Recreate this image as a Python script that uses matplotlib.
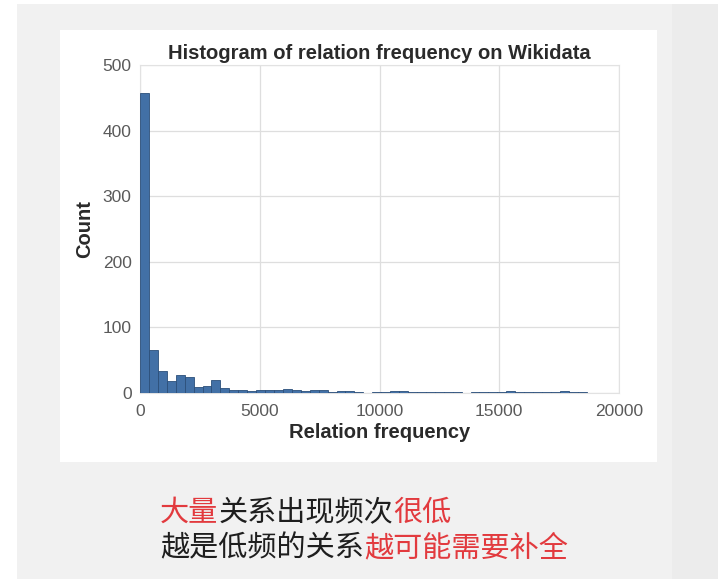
import matplotlib
matplotlib.use("Agg")
import matplotlib.pyplot as plt
from matplotlib.patches import Rectangle
import numpy as np

# relation frequency histogram (50 bins up to the largest frequency)
max_freq = 18650
counts = [457, 66, 33, 18, 28, 24, 9, 10, 20, 7,
          4, 4, 3, 4, 4, 5, 6, 4, 3, 5,
          5, 2, 3, 3, 2, 0, 1, 2, 3, 3,
          2, 2, 2, 2, 2, 1, 0, 1, 2, 2,
          2, 3, 1, 2, 2, 2, 2, 3, 2, 2]
edges = np.linspace(0, max_freq, len(counts) + 1)

title = "Histogram of relation frequency on Wikidata"
xlabel = "Relation frequency"
ylabel = "Count"
xticks = [0, 5000, 10000, 15000, 20000]
yticks = [0, 100, 200, 300, 400, 500]

# caption lines as (text, highlighted) pieces
line1 = [("大量", True), ("关系出现频次", False), ("很低", True)]
line2 = [("越是低频的关系", False), ("越可能需要补全", True)]

W, H = 718, 579
fig = plt.figure(figsize=(W / 100, H / 100), dpi=100)
fig.patch.set_facecolor("#f1f1f1")

# slide background: white margin strips and white panel behind the chart
fig.add_artist(Rectangle((0, 0), 17 / W, 1, transform=fig.transFigure,
                         facecolor="white", edgecolor="none", zorder=0))
fig.add_artist(Rectangle((0, 1 - 4 / H), 1, 4 / H, transform=fig.transFigure,
                         facecolor="white", edgecolor="none", zorder=0))
fig.add_artist(Rectangle((672 / W, 0), 46 / W, 1 - 4 / H, transform=fig.transFigure,
                         facecolor="#ececec", edgecolor="none", zorder=0))
fig.add_artist(Rectangle((60 / W, 1 - 462 / H), 597 / W, 432 / H,
                         transform=fig.transFigure,
                         facecolor="white", edgecolor="none", zorder=0))

ax = fig.add_axes([140 / W, 1 - 393 / H, 479 / W, 328 / H])
ax.set_facecolor("white")
ax.hist(edges[:-1], bins=edges, weights=counts, color="#4270a6",
        edgecolor="#2c4f7a", linewidth=0.6, zorder=3)

ax.set_xlim(0, 20000)
ax.set_ylim(0, 500)
ax.set_xticks(xticks)
ax.set_yticks(yticks)
ax.grid(True, color="#dedede", linewidth=0.9, zorder=0)
ax.set_axisbelow(True)
for s in ax.spines.values():
    s.set_color("#e2e2e2")
    s.set_linewidth(0.8)
ax.tick_params(length=0, labelsize=12.5, labelcolor="#5a5a5a")
ax.tick_params(axis="x", pad=8)
ax.tick_params(axis="y", pad=6)
for lab in ax.get_xticklabels() + ax.get_yticklabels():
    lab.set_family("Liberation Sans")

label_style = dict(fontsize=14.5, fontweight="bold", family="Liberation Sans",
                   color="#2a2a2a")
ax.set_title(title, pad=4, **label_style)
ax.set_xlabel(xlabel, labelpad=3, **label_style)
ax.set_ylabel(ylabel, labelpad=6, **label_style)

# caption under the chart, red for the highlighted pieces
cjk = ["Noto Sans CJK SC", "DejaVu Sans"]


def write_line(pieces, x, y):
    prev = None
    for txt, hot in pieces:
        color = "#e23a3e" if hot else "#1e1e1e"
        if prev is None:
            prev = fig.text(x, y, txt, fontsize=21, family=cjk, color=color,
                            ha="left", va="bottom")
        else:
            # next piece starts where the previous one ends
            prev = ax.annotate(txt, xy=(1, 0), xycoords=prev, fontsize=21,
                               family=cjk, color=color, ha="left",
                               va="bottom", annotation_clip=False)


write_line(line1, 160 / W, 1 - 528 / H)
write_line(line2, 160 / W, 1 - 563 / H)

fig.savefig("out.png", dpi=100, facecolor=fig.get_facecolor())
